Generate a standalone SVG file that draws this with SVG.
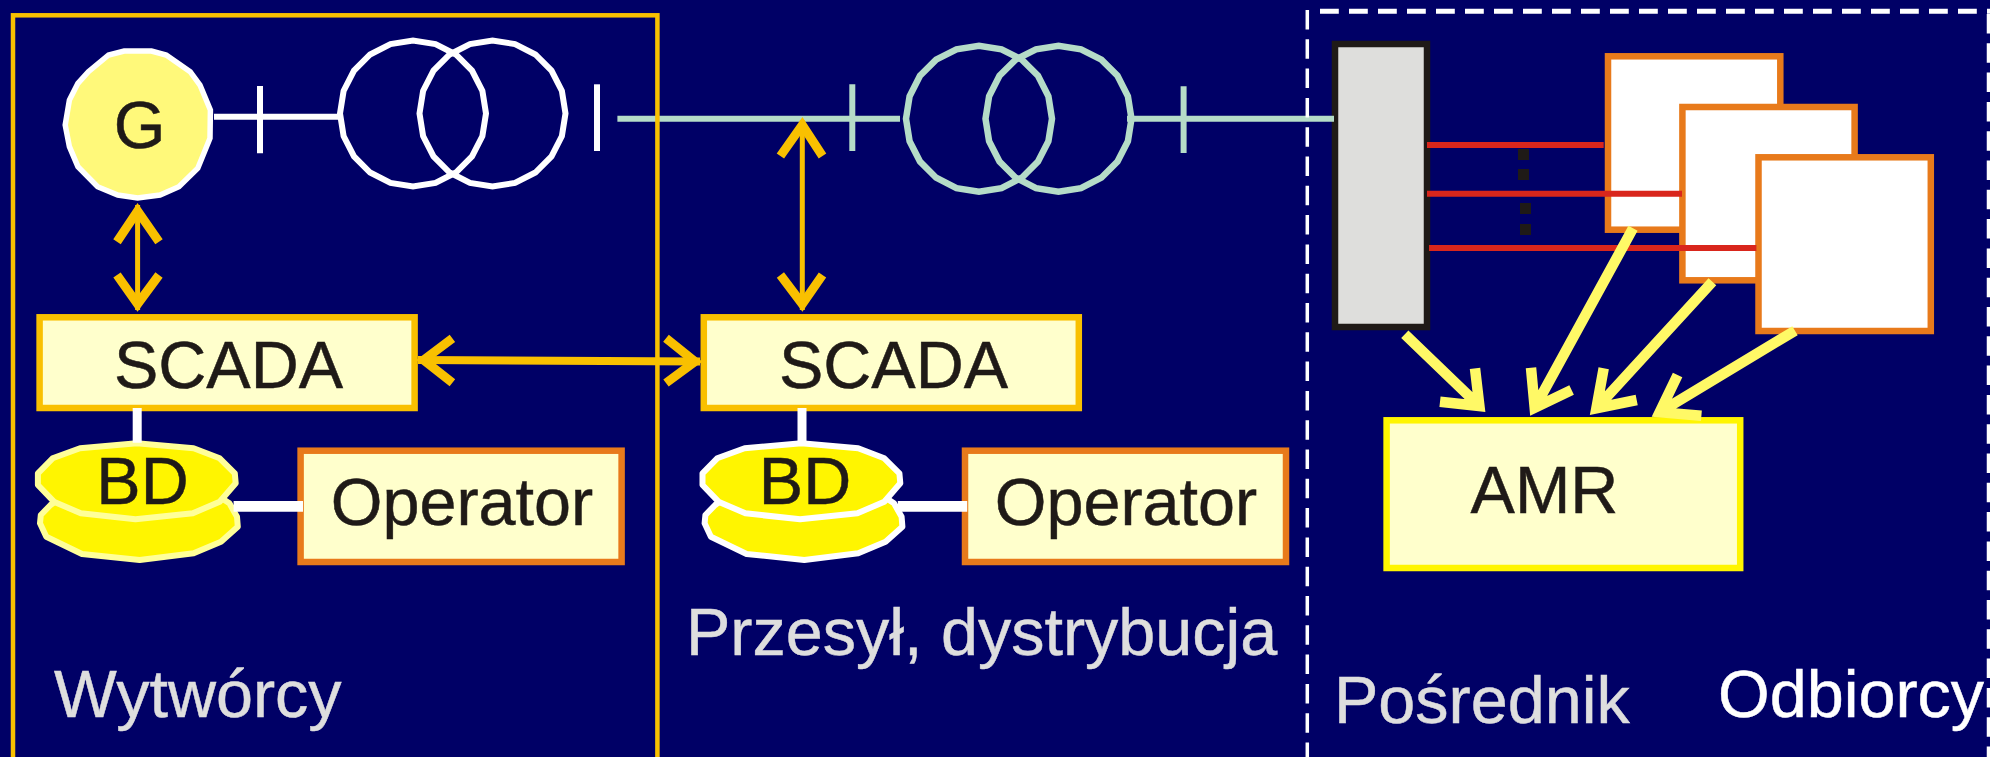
<svg xmlns="http://www.w3.org/2000/svg" width="1990" height="757" viewBox="0 0 1990 757">
<style>
text{font-family:"Liberation Sans",Arial,sans-serif;font-size:66.5px;fill:#1f1a17;stroke:#1f1a17;stroke-width:.5;text-anchor:middle}
text.lab{fill:#dedede;stroke:#dedede;text-anchor:start}
text.wh{fill:#fff;stroke:#fff}
.scada{fill:#ffffcc;stroke:#f9c000;stroke-width:6.5}
.op{fill:#ffffcc;stroke:#e87a1b;stroke-width:6.5}
.sheet{fill:#fff;stroke:#e87a1b;stroke-width:6.5}
.tw{fill:none;stroke:#fff;stroke-width:6}
.tg{fill:none;stroke:#b5dcc8;stroke-width:6.5}
.bd1{fill:#fff500;stroke:#ffff99;stroke-width:6;stroke-linejoin:round}
.bd2{fill:#fff500;stroke:#fff;stroke-width:6;stroke-linejoin:round}
.w{stroke:#fff;stroke-width:6;fill:none}
.wt{stroke:#fff;stroke-width:9;fill:none}
.wl{stroke:#fff;stroke-width:10.7;fill:none}
.g{stroke:#b5dcc8;stroke-width:6;fill:none}
.shaft{stroke:#f9c000;stroke-width:5;fill:none}
.oh{stroke:#f9c000;stroke-width:9;fill:none;stroke-miterlimit:8}
.y{stroke:#fff966;stroke-width:10.5;fill:none;stroke-miterlimit:8}
.r{stroke:#d9261c;stroke-width:6;fill:none}
.dot{fill:#1f1a17}
.dashv{stroke:#fff;stroke-width:3.5;stroke-dasharray:19.5 9.8;fill:none}
.dashh{stroke:#fff;stroke-width:5;stroke-dasharray:18.8 10.2;fill:none}
</style>
<defs>
<polygon id="coil" points="73,0 69.4,22.5 59,42.9 42.9,59 22.5,69.4 0,73 -22.5,69.4 -42.9,59 -59,42.9 -69.4,22.5 -73,0 -69.4,-22.5 -59,-42.9 -42.9,-59 -22.5,-69.4 0,-73 22.5,-69.4 42.9,-59 59,-42.9 69.4,-22.5"/>
<g id="disc">
<polygon points="40.8,515 40,523.3 46.3,536.7 82,554 139.7,560 193.6,553.3 221,541.7 237.8,526.7 237,516.7 229.4,503.3 193.6,480 84.2,480 50.5,505"/>
<polygon points="136.8,443.3 193.6,448.3 219.7,458.3 234.8,473.3 235.7,483.3 219.7,501.7 192.8,513.3 135.5,519.3 80.8,513.3 53.9,501.7 37.9,485 37.9,473.3 52.6,458.3 80,448.3"/>
</g>
</defs>
<rect width="1990" height="757" fill="#000066"/>
<g id="generator">
<polygon fill="#fff97a" stroke="#fff" stroke-width="5.5" points="136.8,51 151.5,51 166.2,55 190.2,71.7 200,85 210.4,110 210,138.3 197.8,168.3 178.9,186.7 160,195 137.6,198 117.8,195 97.6,186.7 77.9,166.7 69.4,146.7 65.2,125 69.4,100 77.9,83.3 88.4,71.7 108.6,55 124.2,51"/>
<text x="139.5" y="148">G</text>
</g>
<g id="transformer-1">
<use href="#coil" class="tw" x="413" y="113.5"/>
<use href="#coil" class="tw" x="492.5" y="113.5"/>
</g>
<g id="transformer-2">
<use href="#coil" class="tg" x="979" y="118.7"/>
<use href="#coil" class="tg" x="1058.5" y="118.7"/>
</g>
<g id="scada-1">
<rect class="scada" x="39.6" y="317.3" width="375" height="90.7"/>
<text x="228.5" y="387.5">SCADA</text>
</g>
<g id="scada-2">
<rect class="scada" x="703.8" y="317.3" width="375" height="90.7"/>
<text x="893.5" y="387.5">SCADA</text>
</g>
<g id="bd-1">
<use href="#disc" class="bd1"/>
<text x="142.5" y="504">BD</text>
</g>
<g id="bd-2">
<use href="#disc" class="bd2" x="664.6"/>
<text x="805" y="504">BD</text>
</g>
<g id="operator-1">
<rect class="op" x="300.6" y="450.7" width="321" height="111.3"/>
<text x="462" y="525">Operator</text>
</g>
<g id="operator-2">
<rect class="op" x="965" y="450.7" width="321" height="111.3"/>
<text x="1126" y="525">Operator</text>
</g>
<g id="busbar">
<rect x="1335" y="44" width="92" height="283" fill="#dededc" stroke="#1f1a17" stroke-width="6.5"/>
</g>
<g id="consumer-1"><rect class="sheet" x="1608" y="56.3" width="172.3" height="173.4"/></g>
<g id="consumer-2"><rect class="sheet" x="1682.4" y="107" width="172.2" height="173.3"/></g>
<g id="consumer-3"><rect class="sheet" x="1758.5" y="157.3" width="172.3" height="173.7"/></g>
<g id="amr">
<rect x="1386.6" y="420.3" width="353.6" height="147.7" fill="#ffffcc" stroke="#fff500" stroke-width="6.5"/>
<text x="1544.5" y="513.3">AMR</text>
</g>
<g id="connectors">
<path class="w" d="M214 116.7H339M260 86V153.3"/>
<path class="g" d="M617.4 118.7H900M852.3 84.3V151M1127 118.7H1334M1183.6 86.3V153"/>
<path class="w" d="M597 84.3V151"/>
<path class="wt" d="M137.2 408V442.7M802 408V442.7"/>
<path class="wl" d="M233.6 506.3H303M897.8 506.3H967.2"/>
<path class="shaft" d="M137.6 205V310M802.3 120V310"/>
<path class="oh" d="M117 241.7L137.6 211L159 241.7M117 275L137.6 304L159 275"/>
<path class="oh" d="M780.4 156L802.3 125L822.5 156M780.4 275L802.3 304L822.5 275"/>
<path stroke="#f9c000" stroke-width="8" fill="none" d="M418 360L700 361.5"/>
<path class="oh" d="M452.4 338.3L423.6 360L452.4 382.7M666 338.3L695 361.5L666 383"/>
<path class="r" d="M1427 145H1603.7M1427 193.7H1682M1429 248H1756.4"/>
<rect class="dot" x="1518" y="149" width="11" height="11"/>
<rect class="dot" x="1518" y="169" width="11" height="11"/>
<rect class="dot" x="1520" y="203" width="11" height="11"/>
<rect class="dot" x="1520" y="224" width="11" height="11"/>
<path class="y" d="M1404.8 334.3L1479.4 406M1475 368.3L1479.4 406L1440 401.7"/>
<path class="y" d="M1633 228.3L1534.7 407.7M1531 367.7L1534.7 407.7L1571.6 390"/>
<path class="y" d="M1712.4 281.7L1596.4 408.2M1603.7 368.3L1596.4 408.2L1636.7 400"/>
<path class="y" d="M1795 330.7L1659.7 412.2M1677.6 375L1659.7 412.2L1701.4 415.7"/>
</g>
<g id="frames">
<rect x="13" y="15.3" width="644.4" height="760" fill="none" stroke="#f9c000" stroke-width="4.5"/>
<path class="dashv" d="M1307.3 10V757"/>
<path class="dashh" d="M1320 11.3H1990"/>
<path class="dashv" d="M1988.5 14V757"/>
</g>
<g id="labels">
<text class="lab" x="54" y="717">Wytwórcy</text>
<text class="lab" x="686" y="655">Przesył, dystrybucja</text>
<text class="lab" x="1334" y="723.3">Pośrednik</text>
<text class="lab wh" x="1718" y="717.3">Odbiorcy</text>
</g>
</svg>
